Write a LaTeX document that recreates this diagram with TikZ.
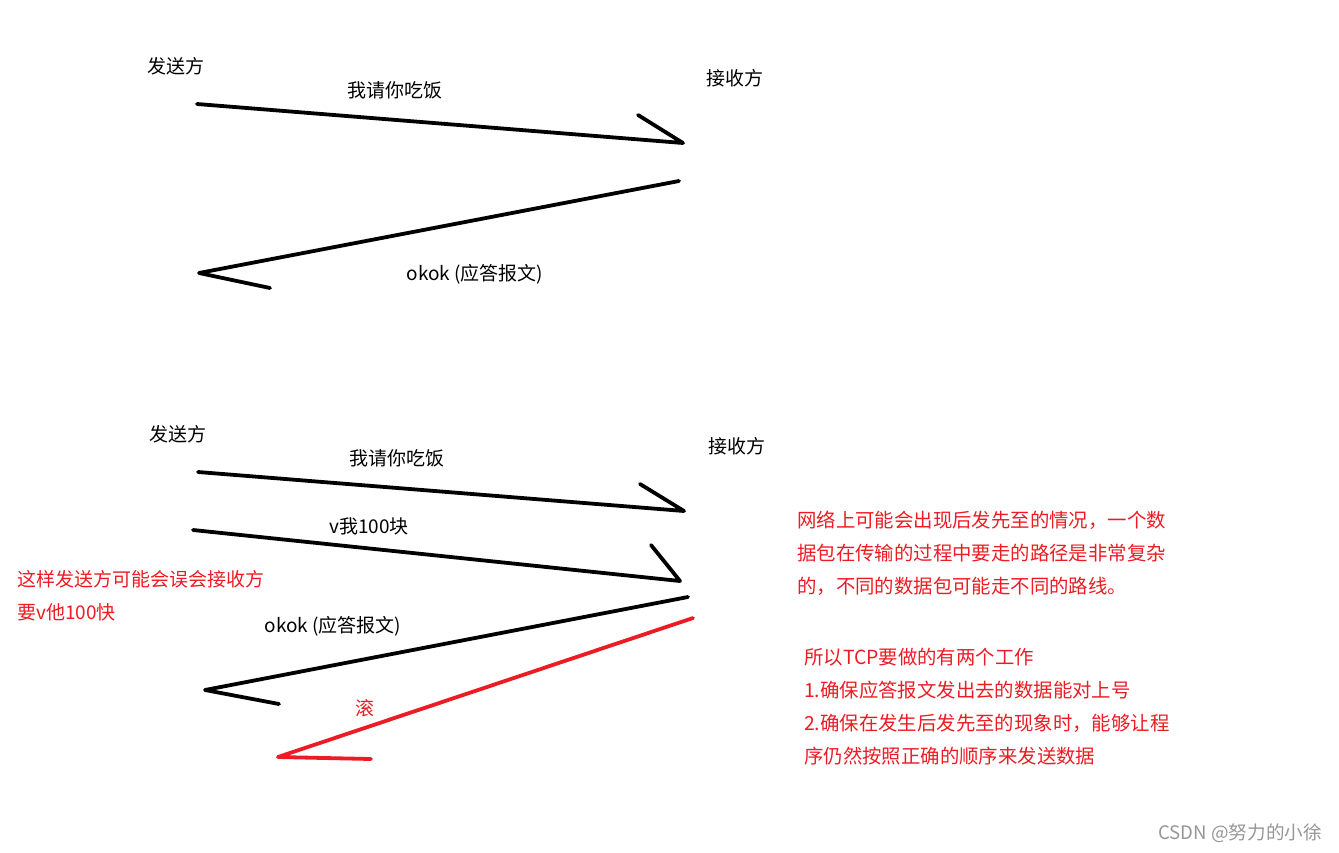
\documentclass[tikz,border=0pt]{standalone}
\usepackage{fontspec}
\setmainfont{Noto Sans CJK SC}
\definecolor{pred}{RGB}{237,28,36}
\definecolor{wm}{RGB}{150,150,150}
\begin{document}
\begin{tikzpicture}[x=1pt,y=-1pt,
  lbl/.style={inner sep=0pt, font=\fontsize{19}{23}\selectfont},
  rlbl/.style={lbl, text=pred},
  blk/.style={line width=3.8pt, line cap=round, line join=round},
  rdl/.style={line width=3.8pt, line cap=round, line join=round, draw=pred}]
\useasboundingbox[fill=white] (0,0) rectangle (1339,852);
% ---------- top ----------
\node[lbl] (s1) at (176,66) {发送方};
\node[lbl] (r1) at (735,78) {接收方};
\node[lbl] (m1) at (395,90) {我请你吃饭};
\node[lbl] (o1) at (475,274) {okok (应答报文)};
\coordinate (a1s) at (197,104);
\coordinate (a1e) at (683,143);
\coordinate (a1b) at (638,115);
\coordinate (a2s) at (679,181);
\coordinate (a2e) at (199,273);
\coordinate (a2b) at (270,288);
\draw[blk] (a1s) -- (a1e) -- (a1b);
\draw[blk] (a2s) -- (a2e) -- (a2b);
% ---------- bottom ----------
\node[lbl] (s2) at (178,434) {发送方};
\node[lbl] (r2) at (737,446) {接收方};
\node[lbl] (m2) at (397,458) {我请你吃饭};
\node[lbl] (m3) at (369,526) {v我100块};
\node[lbl] (o2) at (333,626) {okok (应答报文)};
\node[rlbl] (gun) at (365,708) {滚};
\coordinate (b1s) at (198,472);
\coordinate (b1e) at (684,511);
\coordinate (b1b) at (640,484);
\coordinate (b2s) at (193,530);
\coordinate (b2e) at (680,581);
\coordinate (b2b) at (651,545);
\coordinate (b3s) at (688,597);
\coordinate (b3e) at (205,690);
\coordinate (b3b) at (279,704);
\coordinate (b4s) at (693,618);
\coordinate (b4e) at (278,757);
\coordinate (b4b) at (371,759);
\draw[blk] (b1s) -- (b1e) -- (b1b);
\draw[blk] (b2s) -- (b2e) -- (b2b);
\draw[blk] (b3s) -- (b3e) -- (b3b);
\draw[rdl] (b4s) -- (b4e) -- (b4b);
% ---------- red notes ----------
\node[rlbl, anchor=west, align=left, font=\fontsize{19}{33}\selectfont] (n1) at (17,596)
  {这样发送方可能会误会接收方\\要v他100快};
\node[rlbl, anchor=west, align=left, font=\fontsize{19.4}{33}\selectfont] (n2) at (797,553)
  {网络上可能会出现后发先至的情况，一个数\\据包在传输的过程中要走的路径是非常复杂\\的，不同的数据包可能走不同的路线。};
\node[rlbl, anchor=west, align=left, font=\fontsize{19.4}{33}\selectfont] (n3) at (804,707)
  {所以TCP要做的有两个工作\\1.确保应答报文发出去的数据能对上号\\2.确保在发生后发先至的现象时，能够让程\\序仍然按照正确的顺序来发送数据};
% ---------- watermark ----------
\node[inner sep=0pt, anchor=east, text=wm, font=\fontsize{18.6}{22}\selectfont] (wmk) at (1322,833) {CSDN @努力的小徐};
\end{tikzpicture}
\end{document}
